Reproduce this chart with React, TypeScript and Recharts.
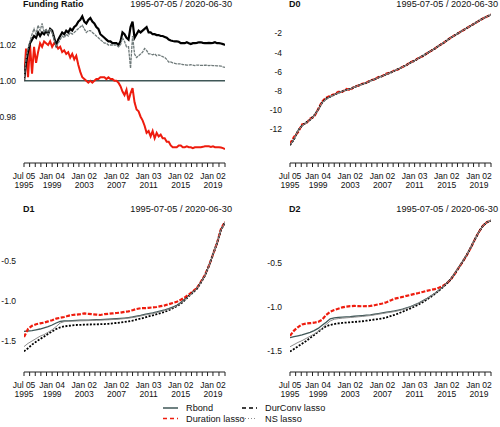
import { LineChart, Line, XAxis, YAxis } from "recharts"

// quarterly funding ratio
const FR_TIMES = [
  1995.5, 1995.75, 1996, 1996.25, 1996.5, 1996.75, 1997, 1997.25, 1997.5, 1997.75,
  1998, 1998.25, 1998.5, 1998.75, 1999, 1999.25, 1999.5, 1999.75, 2000, 2000.25,
  2000.5, 2000.75, 2001, 2001.25, 2001.5, 2001.75, 2002, 2002.25, 2002.5, 2002.75,
  2003, 2003.25, 2003.5, 2003.75, 2004, 2004.25, 2004.5, 2004.75, 2005, 2005.25,
  2005.5, 2005.75, 2006, 2006.25, 2006.5, 2006.75, 2007, 2007.25, 2007.5, 2007.75,
  2008, 2008.25, 2008.5, 2008.75, 2009, 2009.25, 2009.5, 2009.75, 2010, 2010.25,
  2010.5, 2010.75, 2011, 2011.25, 2011.5, 2011.75, 2012, 2012.25, 2012.5, 2012.75,
  2013, 2013.25, 2013.5, 2013.75, 2014, 2014.25, 2014.5, 2014.75, 2015, 2015.25,
  2015.5, 2015.75, 2016, 2016.25, 2016.5, 2016.75, 2017, 2017.25, 2017.5, 2017.75,
  2018, 2018.25, 2018.5, 2018.75, 2019, 2019.25, 2019.5, 2019.75, 2020, 2020.25,
  2020.5,
]
const FR_RBOND_TIMES = [1995.5, 2020.5]
const FR_RBOND = [1.0, 1.0]
const FR_DURATION = [
  1.0, 1.018, 1.002, 1.02, 1.004, 1.019, 1.01, 1.016, 1.021, 1.019,
  1.022, 1.021, 1.02, 1.022, 1.019, 1.021, 1.02, 1.018, 1.019, 1.016,
  1.017, 1.015, 1.016, 1.013, 1.015, 1.012, 1.014, 1.009, 1.005, 1.002,
  1.001, 1.0, 0.999, 1.0, 0.999, 1.0, 1.001, 1.001, 1.002, 1.002,
  1.002, 1.001, 1.002, 1.001, 1.001, 1.0, 1.0, 0.999, 0.997, 0.994,
  0.992, 0.995, 0.989, 0.993, 0.996, 0.988, 0.984, 0.983, 0.98, 0.978,
  0.975, 0.971, 0.972, 0.969, 0.972, 0.968, 0.971, 0.969, 0.97, 0.968,
  0.968, 0.966, 0.966, 0.964, 0.963, 0.963, 0.963, 0.964, 0.964, 0.963,
  0.963, 0.9635, 0.963, 0.963, 0.9625, 0.963, 0.963, 0.963, 0.963, 0.9632,
  0.9635, 0.9635, 0.9635, 0.9632, 0.9635, 0.963, 0.963, 0.963, 0.9628, 0.9625,
  0.962,
]
const FR_DURCONV = [
  1.0, 1.01, 1.016, 1.021, 1.023, 1.025, 1.024, 1.027, 1.025, 1.027,
  1.026, 1.028, 1.026, 1.029, 1.028, 1.024, 1.02, 1.023, 1.025, 1.027,
  1.026, 1.028, 1.027, 1.029, 1.028, 1.03, 1.031, 1.033, 1.034, 1.036,
  1.033, 1.032, 1.034, 1.035, 1.033, 1.032, 1.03, 1.029, 1.026, 1.025,
  1.024, 1.023, 1.022, 1.022, 1.021, 1.021, 1.021, 1.02, 1.022, 1.027,
  1.026, 1.024, 1.023, 1.03, 1.033, 1.024, 1.026, 1.028, 1.027, 1.028,
  1.029, 1.03, 1.027, 1.027, 1.026, 1.026, 1.0255, 1.0255, 1.025, 1.025,
  1.0245, 1.024, 1.023, 1.0225, 1.0222, 1.022, 1.022, 1.0218, 1.021, 1.021,
  1.021, 1.0215, 1.021, 1.0205, 1.021, 1.021, 1.0212, 1.0215, 1.0215, 1.0212,
  1.021, 1.021, 1.0212, 1.021, 1.0212, 1.0215, 1.021, 1.021, 1.0208, 1.0205,
  1.02,
]
const FR_NS = [
  1.0, 1.012, 1.018, 1.022, 1.026, 1.029, 1.026, 1.031, 1.028, 1.032,
  1.027, 1.029, 1.026, 1.029, 1.027, 1.023, 1.019, 1.021, 1.023, 1.025,
  1.024, 1.026, 1.025, 1.027, 1.026, 1.027, 1.028, 1.029, 1.03, 1.031,
  1.029, 1.027, 1.028, 1.028, 1.027, 1.026, 1.025, 1.024, 1.023, 1.022,
  1.021, 1.021, 1.02, 1.02, 1.02, 1.02, 1.02, 1.019, 1.02, 1.024,
  1.022, 1.019, 1.019, 1.007, 1.025, 1.015, 1.013, 1.014, 1.015, 1.016,
  1.018, 1.017, 1.015, 1.015, 1.0145, 1.015, 1.014, 1.0145, 1.014, 1.0135,
  1.013, 1.012, 1.0105, 1.0105, 1.01, 1.0098, 1.0095, 1.0095, 1.0095, 1.009,
  1.009, 1.0088, 1.0088, 1.009, 1.0088, 1.0085, 1.0088, 1.0088, 1.0086, 1.0086,
  1.0088, 1.0087, 1.0085, 1.0086, 1.0085, 1.0085, 1.0084, 1.0083, 1.0082, 1.0078,
  1.0075,
]

// half-yearly curve factors
const D_TIMES = [
  1995.5, 1996, 1996.5, 1997, 1997.5, 1998, 1998.5, 1999, 1999.5, 2000,
  2000.5, 2001, 2001.5, 2002, 2002.5, 2003, 2003.5, 2004, 2004.5, 2005,
  2005.5, 2006, 2006.5, 2007, 2007.5, 2008, 2008.5, 2009, 2009.5, 2010,
  2010.5, 2011, 2011.5, 2012, 2012.5, 2013, 2013.5, 2014, 2014.5, 2015,
  2015.5, 2016, 2016.5, 2017, 2017.5, 2018, 2018.5, 2019, 2019.5, 2020,
  2020.5,
]
const D0_RBOND = [
  -13.6, -13.0, -12.1, -11.6, -11.35, -11.0, -10.6, -9.95, -9.2, -8.85,
  -8.6, -8.4, -8.2, -8.05, -7.9, -7.8, -7.6, -7.45, -7.3, -7.15,
  -6.95, -6.8, -6.6, -6.45, -6.25, -6.1, -5.9, -5.7, -5.5, -5.3,
  -5.05, -4.85, -4.6, -4.35, -4.1, -3.85, -3.6, -3.3, -3.05, -2.75,
  -2.45, -2.2, -1.95, -1.7, -1.45, -1.2, -0.95, -0.7, -0.45, -0.25,
  -0.05,
]
const D0_DURATION = [
  -13.5, -12.8, -12.3, -11.5, -11.4, -10.9, -10.7, -9.9, -9.1, -8.7,
  -8.5, -8.35, -8.1, -8.1, -7.8, -7.9, -7.55, -7.45, -7.25, -7.15,
  -6.9, -6.8, -6.55, -6.45, -6.2, -6.1, -5.85, -5.75, -5.5, -5.3,
  -5.0, -4.85, -4.55, -4.4, -4.1, -3.85, -3.6, -3.3, -3.05, -2.75,
  -2.45, -2.2, -1.95, -1.7, -1.45, -1.2, -0.95, -0.7, -0.45, -0.25,
  -0.05,
]
const D0_DURCONV = [
  -13.65, -13.05, -12.15, -11.6, -11.3, -11.0, -10.55, -9.95, -9.2, -8.8,
  -8.6, -8.4, -8.2, -8.05, -7.9, -7.8, -7.6, -7.45, -7.3, -7.15,
  -6.95, -6.8, -6.6, -6.45, -6.25, -6.1, -5.9, -5.7, -5.5, -5.3,
  -5.05, -4.85, -4.6, -4.35, -4.1, -3.85, -3.6, -3.3, -3.05, -2.75,
  -2.45, -2.2, -1.95, -1.7, -1.45, -1.2, -0.95, -0.7, -0.45, -0.25,
  -0.05,
]
const D0_NS = [
  -13.6, -13.0, -12.15, -11.6, -11.35, -11.0, -10.6, -9.95, -9.2, -8.85,
  -8.6, -8.4, -8.2, -8.05, -7.9, -7.8, -7.6, -7.45, -7.3, -7.15,
  -6.95, -6.8, -6.6, -6.45, -6.25, -6.1, -5.9, -5.7, -5.5, -5.3,
  -5.05, -4.85, -4.6, -4.35, -4.1, -3.85, -3.6, -3.3, -3.05, -2.75,
  -2.45, -2.2, -1.95, -1.7, -1.45, -1.2, -0.95, -0.7, -0.45, -0.25,
  -0.05,
]

const D1_RBOND = [
  -1.38, -1.375, -1.37, -1.36, -1.35, -1.335, -1.32, -1.3, -1.275, -1.255,
  -1.25, -1.248, -1.245, -1.243, -1.24, -1.24, -1.238, -1.236, -1.234, -1.232,
  -1.23, -1.228, -1.225, -1.222, -1.218, -1.213, -1.207, -1.2, -1.19, -1.18,
  -1.168, -1.158, -1.148, -1.136, -1.122, -1.11, -1.095, -1.075, -1.055, -1.02,
  -0.975, -0.93, -0.885, -0.84, -0.765, -0.68, -0.56, -0.42, -0.28, -0.11,
  -0.02,
]
const D1_DURATION = [
  -1.45, -1.35, -1.31, -1.29, -1.28, -1.27, -1.255, -1.24, -1.22, -1.21,
  -1.2, -1.185, -1.175, -1.17, -1.165, -1.155, -1.16, -1.165, -1.17, -1.175,
  -1.165, -1.16, -1.155, -1.15, -1.145, -1.135, -1.13, -1.115, -1.1, -1.09,
  -1.09, -1.085, -1.08, -1.075, -1.065, -1.055, -1.04, -1.025, -1.01, -0.985,
  -0.955, -0.92, -0.88, -0.84, -0.76, -0.675, -0.56, -0.42, -0.28, -0.1,
  -0.01,
]
const D1_DURCONV = [
  -1.63, -1.59, -1.545, -1.51, -1.475, -1.445, -1.41, -1.38, -1.35, -1.33,
  -1.318, -1.31, -1.305, -1.3, -1.298, -1.296, -1.294, -1.293, -1.292, -1.29,
  -1.288, -1.285, -1.28, -1.275, -1.27, -1.262, -1.255, -1.245, -1.232, -1.22,
  -1.207, -1.193, -1.18, -1.165, -1.15, -1.135, -1.115, -1.09, -1.065, -1.035,
  -0.99, -0.94, -0.895, -0.848, -0.772, -0.685, -0.563, -0.42, -0.28, -0.11,
  -0.02,
]
const D1_NS = [
  -1.57, -1.53, -1.5, -1.47, -1.44, -1.42, -1.39, -1.36, -1.32, -1.275,
  -1.258, -1.255, -1.252, -1.25, -1.248, -1.247, -1.245, -1.243, -1.241, -1.239,
  -1.237, -1.235, -1.232, -1.229, -1.225, -1.22, -1.214, -1.207, -1.198, -1.188,
  -1.177, -1.167, -1.157, -1.145, -1.132, -1.12, -1.105, -1.085, -1.063, -1.03,
  -0.985, -0.94, -0.893, -0.845, -0.77, -0.683, -0.562, -0.42, -0.28, -0.11,
  -0.02,
]

const D2_RBOND = [
  -1.35, -1.34, -1.33, -1.32, -1.305, -1.29, -1.27, -1.245, -1.21, -1.175,
  -1.135, -1.125, -1.12, -1.115, -1.112, -1.11, -1.106, -1.102, -1.098, -1.094,
  -1.09, -1.083, -1.076, -1.068, -1.06, -1.053, -1.045, -1.035, -1.025, -1.01,
  -0.995, -0.975, -0.955, -0.93, -0.905, -0.875, -0.845, -0.81, -0.77, -0.725,
  -0.68, -0.615, -0.545, -0.475, -0.4, -0.315, -0.225, -0.14, -0.07, -0.03,
  -0.01,
]
const D2_DURATION = [
  -1.33, -1.27, -1.23, -1.2, -1.19, -1.185, -1.18, -1.17, -1.145, -1.09,
  -1.055, -1.035, -1.02, -1.005, -0.995, -0.99, -0.988, -0.99, -0.992, -0.99,
  -0.988, -0.98, -0.97, -0.96, -0.945, -0.925, -0.905, -0.895, -0.885, -0.872,
  -0.862, -0.85, -0.84, -0.828, -0.815, -0.805, -0.795, -0.78, -0.76, -0.73,
  -0.685, -0.62, -0.55, -0.48, -0.405, -0.32, -0.225, -0.14, -0.07, -0.03,
  -0.01,
]
const D2_DURCONV = [
  -1.51, -1.48, -1.45, -1.42, -1.39, -1.355, -1.32, -1.285, -1.25, -1.22,
  -1.205, -1.195, -1.188, -1.182, -1.178, -1.175, -1.171, -1.168, -1.163, -1.157,
  -1.15, -1.143, -1.137, -1.13, -1.12, -1.105, -1.09, -1.073, -1.055, -1.035,
  -1.015, -0.995, -0.97, -0.945, -0.915, -0.885, -0.852, -0.815, -0.775, -0.73,
  -0.683, -0.617, -0.547, -0.477, -0.402, -0.316, -0.226, -0.14, -0.07, -0.03,
  -0.01,
]
const D2_NS = [
  -1.455, -1.43, -1.405, -1.385, -1.36, -1.335, -1.31, -1.28, -1.24, -1.2,
  -1.16, -1.14, -1.133, -1.128, -1.124, -1.12, -1.116, -1.112, -1.108, -1.103,
  -1.098, -1.09, -1.083, -1.075, -1.067, -1.06, -1.052, -1.042, -1.03, -1.015,
  -1.0, -0.98, -0.958, -0.933, -0.907, -0.877, -0.846, -0.811, -0.771, -0.726,
  -0.68, -0.615, -0.545, -0.475, -0.4, -0.315, -0.225, -0.14, -0.07, -0.03,
  -0.01,
]

// x axis: small ticks everywhere, labels on the major ones
const X_TICKS = [
  1995.5, 1996.2, 1996.9, 1997.6, 1998.3, 1999, 1999.67, 2000.33, 2001, 2001.67,
  2002.33, 2003, 2003.67, 2004.33, 2005, 2005.67, 2006.33, 2007, 2007.67, 2008.33,
  2009, 2009.67, 2010.33, 2011, 2011.67, 2012.33, 2013, 2013.67, 2014.33, 2015,
  2015.67, 2016.33, 2017, 2017.67, 2018.33, 2019, 2019.75, 2020.5,
]
const MAJOR_TICKS = [1995.5, 1999, 2003, 2007, 2011, 2015, 2019]
const MAJOR_DAYS = ["Jul 05", "Jan 04", "Jan 02", "Jan 02", "Jan 03", "Jan 02", "Jan 02"]
const MAJOR_YEARS = ["1995", "1999", "2003", "2007", "2011", "2015", "2019"]

const RANGE_TEXT = "1995-07-05 / 2020-06-30"
const FONT = '"Liberation Sans", Arial, Helvetica, sans-serif'

const RBOND_COLOR = "#3f5757"
const RED = "#ee1c0e"
const NS_COLOR = "#8c8c8c"

const STYLES = {
  Rbond: { color: RBOND_COLOR, width: 1.3, dash: undefined as string | undefined },
  "Duration lasso": { color: RED, width: 2.2, dash: "4 1.5" as string | undefined },
  "DurConv lasso": { color: "#000", width: 1.8, dash: "2 1.5" as string | undefined },
  "NS lasso": { color: NS_COLOR, width: 1, dash: undefined as string | undefined },
}
type SeriesName = keyof typeof STYLES

interface Series {
  name: SeriesName
  times: number[]
  values: number[]
  width?: number
  dash?: string
  color?: string
}

function DateTick({ x, y, payload }: any) {
  const i = MAJOR_TICKS.indexOf(payload.value)
  if (i < 0) return <g />
  return (
    <g fontFamily={FONT} fontSize={8.5} fill="#111">
      <text x={x} y={y + 12} textAnchor="middle">{MAJOR_DAYS[i]}</text>
      <text x={x} y={y + 21} textAnchor="middle">{MAJOR_YEARS[i]}</text>
    </g>
  )
}

interface PanelProps {
  left: number
  top: number
  title: string
  titleTop: number
  domain: [number, number]
  yTicks: number[]
  digits: number
  series: Series[]
}

function Panel({ left, top, title, titleTop, domain, yTicks, digits, series }: PanelProps) {
  return (
    <div style={{ position: "absolute", left, top, width: 250, height: 192 }}>
      <LineChart width={250} height={192} margin={{ top: 10, right: 25, bottom: 0, left: 0 }}>
        <XAxis
          type="number"
          dataKey="t"
          domain={[1995.5, 2020.5]}
          ticks={X_TICKS}
          interval={0}
          tickSize={4}
          tickMargin={0}
          height={29}
          allowDataOverflow
          axisLine={{ stroke: "#222" }}
          tickLine={{ stroke: "#222" }}
          tick={<DateTick />}
        />
        <YAxis
          type="number"
          domain={domain}
          ticks={yTicks}
          width={24}
          allowDataOverflow
          axisLine={false}
          tickLine={false}
          tickSize={0}
          tickMargin={8}
          tick={{ fontSize: 8.5, fill: "#111", fontFamily: FONT }}
          tickFormatter={(v: number) => v.toFixed(digits)}
        />
        {series.map((s) => {
          const st = STYLES[s.name]
          return (
            <Line
              key={s.name}
              data={s.times.map((t, i) => ({ t, v: s.values[i] }))}
              dataKey="v"
              type="linear"
              stroke={s.color ?? st.color}
              strokeWidth={s.width ?? st.width}
              strokeDasharray={s.dash ?? st.dash}
              dot={false}
              isAnimationActive={false}
            />
          )
        })}
      </LineChart>
      <div
        style={{
          position: "absolute", left: 23, top: titleTop, fontFamily: FONT,
          fontSize: 9, fontWeight: "bold", lineHeight: "10px", color: "#111",
        }}
      >
        {title}
      </div>
      <div
        style={{
          position: "absolute", right: 18, top: titleTop, fontFamily: FONT,
          fontSize: 9.2, lineHeight: "10px", color: "#111", whiteSpace: "nowrap",
        }}
      >
        {RANGE_TEXT}
      </div>
    </div>
  )
}

const LEGEND_ITEMS: { name: SeriesName; col: number; row: number }[] = [
  { name: "Rbond", col: 0, row: 0 },
  { name: "Duration lasso", col: 0, row: 1 },
  { name: "DurConv lasso", col: 1, row: 0 },
  { name: "NS lasso", col: 1, row: 1 },
]

function Legend() {
  const dashes: Record<SeriesName, string | undefined> = {
    Rbond: undefined,
    "Duration lasso": "4 3",
    "DurConv lasso": "4 3",
    "NS lasso": "1 2",
  }
  return (
    <svg style={{ position: "absolute", left: 150, top: 398, width: 200, height: 29 }}>
      {LEGEND_ITEMS.map((it) => {
        const st = STYLES[it.name]
        const x = 13 + it.col * 79
        const y = 10 + it.row * 10.5
        return (
          <g key={it.name}>
            <line
              x1={x} x2={x + 15} y1={y} y2={y}
              stroke={st.color}
              strokeWidth={it.name === "NS lasso" ? 1 : 1.5}
              strokeDasharray={dashes[it.name]}
            />
            <text x={x + 23} y={y + 3.2} fontFamily={FONT} fontSize={9.2} fill="#111">
              {it.name}
            </text>
          </g>
        )
      })}
    </svg>
  )
}

export default function App() {
  const fr: Series[] = [
    { name: "Rbond", times: FR_RBOND_TIMES, values: FR_RBOND, width: 1.5 },
    { name: "Duration lasso", times: FR_TIMES, values: FR_DURATION, dash: "", width: 2 },
    { name: "DurConv lasso", times: FR_TIMES, values: FR_DURCONV, dash: "", width: 2.2 },
    { name: "NS lasso", times: FR_TIMES, values: FR_NS, dash: "3 0.8", width: 1.3, color: "#6f7a7a" },
  ]
  const d0: Series[] = [
    { name: "Rbond", times: D_TIMES, values: D0_RBOND },
    { name: "Duration lasso", times: D_TIMES, values: D0_DURATION },
    { name: "DurConv lasso", times: D_TIMES, values: D0_DURCONV },
    { name: "NS lasso", times: D_TIMES, values: D0_NS },
  ]
  const d1: Series[] = [
    { name: "Rbond", times: D_TIMES, values: D1_RBOND },
    { name: "Duration lasso", times: D_TIMES, values: D1_DURATION },
    { name: "DurConv lasso", times: D_TIMES, values: D1_DURCONV },
    { name: "NS lasso", times: D_TIMES, values: D1_NS },
  ]
  const d2: Series[] = [
    { name: "Rbond", times: D_TIMES, values: D2_RBOND },
    { name: "Duration lasso", times: D_TIMES, values: D2_DURATION },
    { name: "DurConv lasso", times: D_TIMES, values: D2_DURCONV },
    { name: "NS lasso", times: D_TIMES, values: D2_NS },
  ]

  return (
    <div style={{ position: "absolute", left: 0, top: 0, width: 500, height: 427, background: "#fff", overflow: "hidden" }}>
      <Panel left={0} top={0} title="Funding Ratio" titleTop={-1} domain={[0.9542, 1.0395]} yTicks={[0.98, 1.0, 1.02]} digits={2} series={fr} />
      <Panel left={266} top={0} title="D0" titleTop={-1} domain={[-15.51, 0.43]} yTicks={[-12, -10, -8, -6, -4, -2]} digits={0} series={d0} />
      <Panel left={0} top={209} title="D1" titleTop={-5} domain={[-1.8875, 0.025]} yTicks={[-1.5, -1.0, -0.5]} digits={1} series={d1} />
      <Panel left={266} top={209} title="D2" titleTop={-5} domain={[-1.744, 0.007]} yTicks={[-1.5, -1.0, -0.5]} digits={1} series={d2} />
      <Legend />
    </div>
  )
}
